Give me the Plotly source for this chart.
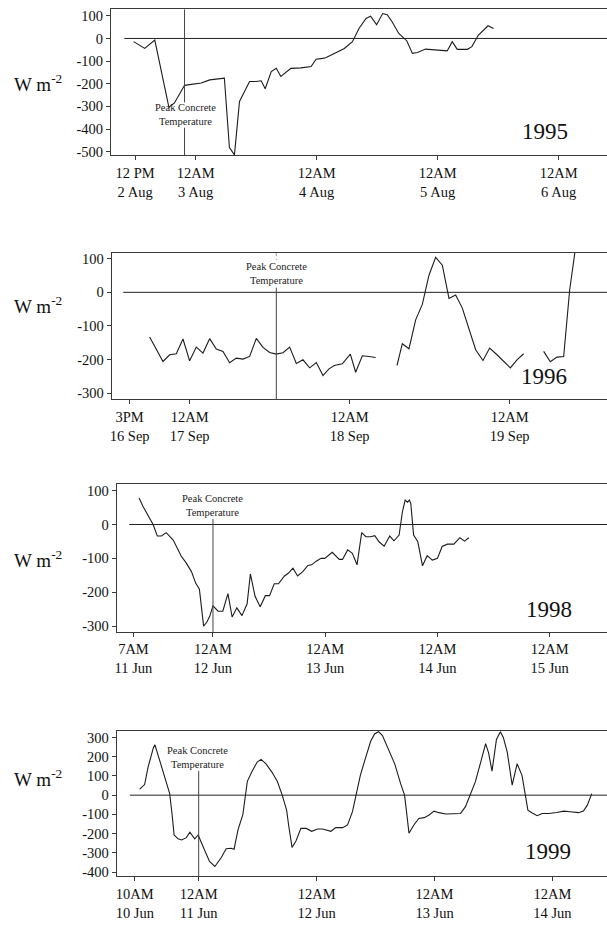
import plotly.graph_objects as go

# Net surface heat flux (W m^-2) for four field seasons.
# Time is in hours from the first midnight labelled on each axis;
# None breaks the trace where the record has a gap.

# 1995 -- hours from 12AM 3 Aug
hours_1995 = [-12.3, -11.2, -10.1, -8.1, -5.3, -4.2, -2.2, -1.2, 1.1, 2.8, 5.7, 6.7, 7.7, 8.7,
              10.7, 12.0, 13.0, 13.8, 15.0, 16.0, 16.9, 18.9, 20.9, 22.9, 23.9, 25.2, 25.8,
              27.5, 29.5, 31.1, 32.4, 33.8, 34.7, 35.9, 37.1, 38.0, 39.0, 40.3, 41.9, 43.0,
              44.0, 45.6, 47.3, 49.9, 50.9, 51.9, 53.9, 54.8, 56.1, 58.0, 59.1]
flux_1995 = [-14, -29, -44, -7, -304, -285, -207, -204, -197, -183, -175, -482, -514, -278,
             -190, -190, -187, -222, -146, -132, -168, -132, -130, -124, -92, -88, -85,
             -66, -44, -14, 44, 88, 98, 61, 110, 105, 73, 22, -11, -66,
             -62, -47, -51, -55, -14, -48, -48, -36, 15, 56, 44]

# 1996 -- hours from 12AM 17 Sep
hours_1996 = [-6, -5, -4, -3, -2, -1, 0, 1, 2, 3, 4, 5, 6, 7, 8, 9, 10, 11, 12, 13, 14, 15,
              16, 17, 18, 19, 20, 20.9, 21.7, 22.9, 24.1, 24.9, 25.9, 26.9, 27.9,
              29.5,
              31.1, 31.9, 32.9, 33.9, 34.9, 35.9, 36.9, 37.9, 38.9, 39.9, 40.9, 41.9, 42.9,
              44.0, 45.0, 46.1, 47.1, 48.1, 49.1, 50.1,
              51.6,
              53.1, 54.1, 55.1, 56.1, 57.0, 58.0]
flux_1996 = [-133, -171, -206, -186, -183, -139, -204, -163, -181, -138, -169, -176, -210,
             -196, -199, -191, -137, -164, -179, -184, -180, -163, -212, -201, -225, -209,
             -248, -228, -218, -213, -184, -238, -189, -191, -194,
             None,
             -218, -153, -168, -82, -36, 51, 104, 81, -18, -8, -47, -107, -171,
             -203, -166, -186, -206, -225, -201, -183,
             None,
             -176, -207, -193, -191, 7, 150]

# 1998 -- hours from 12AM 12 Jun
hours_1998 = [-15.8, -14.9, -12.8, -11.9, -11.0, -10.0, -8.5, -6.8, -5.7, -4.6,
              -3.7, -2.9, -2.0, -1.3, -0.7, 0.0, 1.1, 2.1, 3.2, 4.1,
              5.1, 6.2, 7.3, 8.0, 9.0, 10.1, 11.2, 12.1, 13.1, 14.0,
              15.3, 16.1, 17.1, 18.1, 19.2, 20.3, 21.1, 22.0, 23.1, 23.9,
              25.5, 27.0, 27.7, 28.8, 29.8, 30.8, 31.8, 32.7, 33.7, 34.6,
              35.5, 36.6, 37.8, 38.7, 39.8, 40.5, 41.1, 41.6, 42.0, 42.3,
              42.9, 43.8, 44.8, 45.8, 46.9, 48.0, 49.0, 50.1, 51.5, 52.8,
              53.8, 54.7]
flux_1998 = [78, 52, 0, -34, -34, -24, -46, -93, -114, -139,
             -173, -191, -300, -288, -271, -240, -256, -256, -204, -273,
             -246, -269, -234, -146, -212, -243, -210, -210, -175, -175,
             -152, -144, -129, -152, -139, -121, -119, -109, -100, -100,
             -82, -103, -103, -75, -85, -119, -24, -36, -36, -33,
             -51, -64, -34, -48, -31, 37, 72, 66, 72, 62,
             -31, -51, -122, -92, -105, -100, -65, -58, -58, -39,
             -49, -39]

# 1999 -- hours from 12AM 11 Jun
hours_1999 = [-12.0, -11.0, -10.3, -9.6, -9.2, -8.9, -8.5, -7.6, -6.6, -5.9,
              -5.4, -5.0, -4.2, -3.5, -2.5, -1.8, -0.8, -0.1, 0.6, 1.4,
              2.2, 3.3, 4.6, 5.6, 6.6, 7.2, 8.0, 9.0, 9.9, 10.8,
              11.9, 12.7, 13.7, 14.9, 16.0, 17.0, 17.9, 18.3, 19.0, 19.8,
              20.8, 21.9, 23.0, 24.2, 25.2, 26.9, 27.9, 29.3, 30.3, 31.3,
              32.0, 32.9, 33.7, 34.4, 35.0, 35.8, 36.6, 37.4, 38.1, 38.8,
              39.9, 41.1, 41.9, 42.3, 42.8, 43.8, 44.8, 45.9, 46.9, 47.9,
              48.9, 50.3, 51.9, 53.3, 54.3, 55.3, 56.3, 57.4, 57.9, 58.4,
              59.0, 59.7, 60.6, 61.4, 62.0, 62.8, 63.8, 64.8, 65.8, 66.5,
              67.0, 67.8, 68.9, 69.9, 71.2, 72.9, 74.3, 75.6, 77.3, 78.3,
              79.1, 80.0]
flux_1999 = [31, 55, 146, 215, 248, 262, 228, 155, 78, 8,
             -103, -207, -227, -233, -221, -193, -227, -207, -250, -293,
             -345, -371, -324, -279, -276, -281, -181, -100, 72, 120,
             172, 186, 163, 120, 72, 0, -78, -155, -272, -238,
             -173, -173, -188, -176, -176, -188, -169, -169, -155, -86,
             0, 103, 172, 224, 280, 318, 330, 310, 270, 224,
             163, 60, 0, -86, -198, -155, -121, -117, -103, -83,
             -91, -98, -98, -95, -60, 0, 69, 172, 224, 268,
             220, 125, 290, 330, 300, 224, 52, 163, 103, 0,
             -78, -91, -107, -95, -95, -90, -83, -86, -91, -83,
             -52, 8]

# Axis ticks (hours) and their two-line labels
xticks_1995 = [-12, 0, 24, 48, 72]
xlabels_1995 = ["12 PM<br>2 Aug", "12AM<br>3 Aug", "12AM<br>4 Aug", "12AM<br>5 Aug", "12AM<br>6 Aug"]
xticks_1996 = [-9, 0, 24, 48]
xlabels_1996 = ["3PM<br>16 Sep", "12AM<br>17 Sep", "12AM<br>18 Sep", "12AM<br>19 Sep"]
xticks_1998 = [-17, 0, 24, 48, 72]
xlabels_1998 = ["7AM<br>11 Jun", "12AM<br>12 Jun", "12AM<br>13 Jun", "12AM<br>14 Jun", "12AM<br>15 Jun"]
xticks_1999 = [-13, 0, 24, 48, 72]
xlabels_1999 = ["10AM<br>10 Jun", "12AM<br>11 Jun", "12AM<br>12 Jun", "12AM<br>13 Jun", "12AM<br>14 Jun"]

yticks_1995 = [100, 0, -100, -200, -300, -400, -500]
yticks_1996 = [100, 0, -100, -200, -300]
yticks_1998 = [100, 0, -100, -200, -300]
yticks_1999 = [300, 200, 100, 0, -100, -200, -300, -400]

# Time of peak concrete temperature (hours)
peak_1995 = -2.2
peak_1996 = 13.0
peak_1998 = 0.0
peak_1999 = 0.0

FONT = "Liberation Serif, Times New Roman, serif"
INK = "#1c1c1c"
AXIS = "#3a3a3a"
W, H = 607, 926

panels = [
    dict(hours=hours_1995, flux=flux_1995, year="1995", xt=xticks_1995, xl=xlabels_1995,
         yt=yticks_1995, peak=peak_1995,
         xrange=[-16.8, 81.6], yrange=[-516, 129], left=109.3, top=7.3, bottom=154.3,
         zero_from=-14.15, year_at=(69.3, -409), unit_y=-197,
         label_x=-2.0, label_y=-338,
         segs=[(129, -282, "solid"), (-394, -516, "solid")]),
    dict(hours=hours_1996, flux=flux_1996, year="1996", xt=xticks_1996, xl=xlabels_1996,
         yt=yticks_1996, peak=peak_1996,
         xrange=[-11.7, 62.6], yrange=[-319, 117], left=110.0, top=252.7, bottom=400.0,
         zero_from=-9.96, year_at=(53.2, -250), unit_y=-37,
         label_x=13.0, label_y=55,
         segs=[(117, 96, "dot"), (14, -319, "solid")]),
    dict(hours=hours_1998, flux=flux_1998, year="1998", xt=xticks_1998, xl=xlabels_1998,
         yt=yticks_1998, peak=peak_1998,
         xrange=[-20.6, 84.25], yrange=[-317, 120], left=115.0, top=485.0, bottom=634.0,
         zero_from=-17.9, year_at=(71.8, -251), unit_y=-102,
         label_x=0.0, label_y=56,
         segs=[(16, -317, "solid")]),
    dict(hours=hours_1999, flux=flux_1999, year="1999", xt=xticks_1999, xl=xlabels_1999,
         yt=yticks_1999, peak=peak_1999,
         xrange=[-16.7, 83.1], yrange=[-422, 335], left=115.0, top=733.5, bottom=880.0,
         zero_from=-14.0, year_at=(71.1, -293), unit_y=91,
         label_x=-0.3, label_y=196,
         segs=[(126, -422, "solid")]),
]

fig = go.Figure()
shapes, annotations = [], []

for i, p in enumerate(panels, start=1):
    sfx = "" if i == 1 else str(i)
    xa, ya = "x" + sfx, "y" + sfx

    fig.add_trace(go.Scatter(
        x=p["hours"], y=p["flux"], mode="lines", connectgaps=False,
        line=dict(color=INK, width=1.1), xaxis=xa, yaxis=ya,
        showlegend=False, hoverinfo="skip"))

    ydom = [1 - p["bottom"] / H, 1 - p["top"] / H]
    fig.layout["xaxis" + sfx] = dict(
        domain=[p["left"] / W, 1], range=p["xrange"], anchor=ya,
        tickmode="array", tickvals=p["xt"], ticktext=p["xl"],
        ticks="outside", ticklen=4, tickcolor=AXIS,
        showline=True, mirror=True, linecolor=AXIS, linewidth=1,
        showgrid=False, zeroline=False,
        tickfont=dict(family=FONT, size=14.5, color="#111"))
    fig.layout["yaxis" + sfx] = dict(
        domain=ydom, range=p["yrange"], anchor=xa,
        tickmode="array", tickvals=p["yt"], ticktext=[str(v) for v in p["yt"]],
        ticks="outside", ticklen=4, tickcolor=AXIS,
        showline=True, linecolor=AXIS, linewidth=1,
        showgrid=False, zeroline=False,
        tickfont=dict(family=FONT, size=14.5, color="#111"))

    # zero reference line
    shapes.append(dict(type="line", xref=xa, yref=ya, x0=p["zero_from"], x1=p["xrange"][1],
                       y0=0, y1=0, line=dict(color="#222", width=1)))
    # peak concrete temperature marker, broken around its label
    for y0, y1, dash in p["segs"]:
        shapes.append(dict(type="line", xref=xa, yref=ya, x0=p["peak"], x1=p["peak"],
                           y0=y0, y1=y1,
                           line=dict(color="#444" if dash == "solid" else "#999",
                                     width=1, dash=dash)))
    annotations.append(dict(xref=xa, yref=ya, x=p["label_x"], y=p["label_y"],
                            text="Peak Concrete<br>Temperature",
                            showarrow=False, xanchor="center", yanchor="middle",
                            font=dict(family=FONT, size=10.5, color="#222")))
    # year tag
    annotations.append(dict(xref=xa, yref=ya, x=p["year_at"][0], y=p["year_at"][1],
                            text=p["year"], showarrow=False, xanchor="center",
                            yanchor="middle", font=dict(family=FONT, size=23, color="#111")))
    # unit label
    annotations.append(dict(xref="paper", yref=ya, x=10 / W, y=p["unit_y"],
                            text="W m<sup>-2</sup>", showarrow=False, xanchor="left",
                            yanchor="middle", font=dict(family=FONT, size=19, color="#111")))

fig.update_layout(
    width=W, height=H, margin=dict(l=0, r=0, t=0, b=0),
    paper_bgcolor="white", plot_bgcolor="white",
    shapes=shapes, annotations=annotations, showlegend=False)

fig.write_html("out.html")
